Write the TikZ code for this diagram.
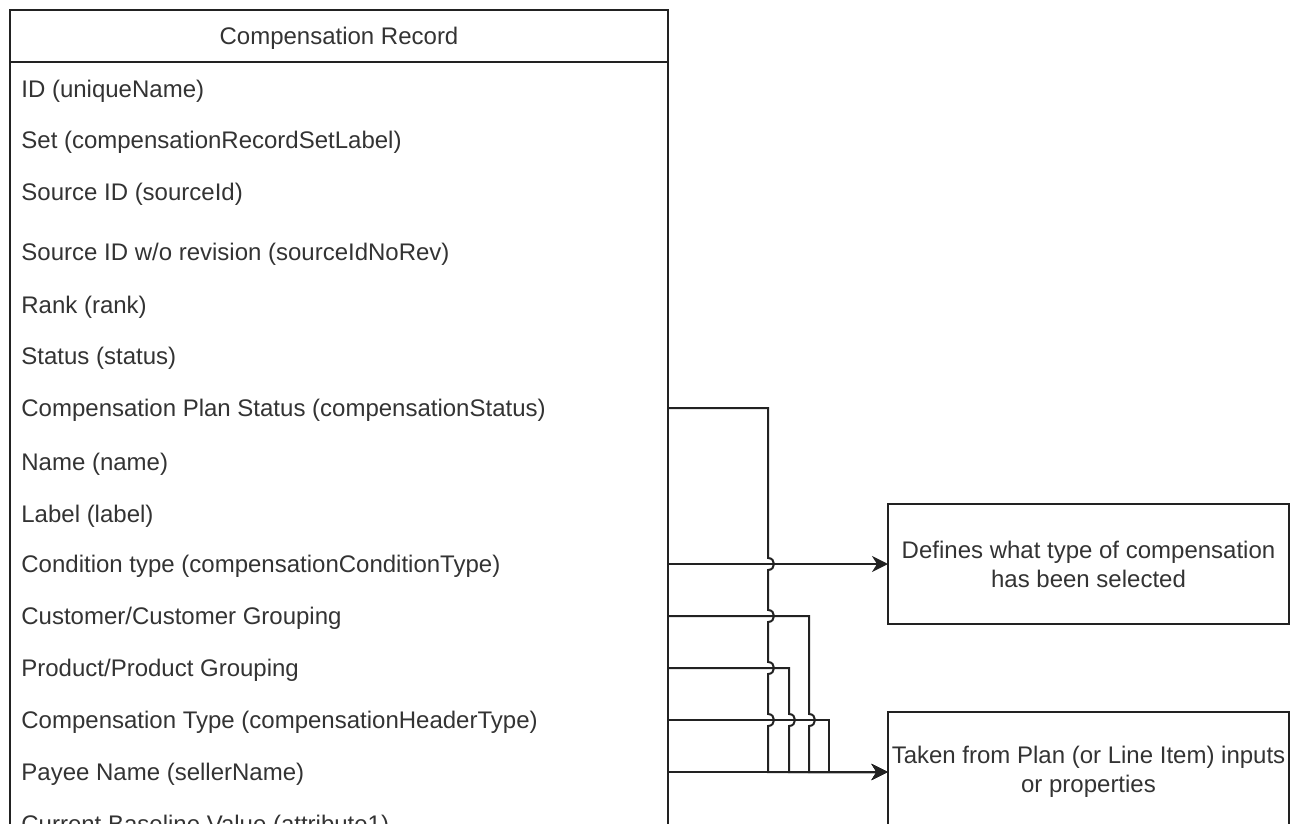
\documentclass[tikz,border=0pt]{standalone}
\usepackage{fontspec}
\setmainfont{Liberation Sans}
\usetikzlibrary{arrows.meta}
\definecolor{ink}{HTML}{333333}
\definecolor{edge}{HTML}{222222}
\begin{document}
\begin{tikzpicture}[x=0.5pt,y=-0.5pt,
  txt/.style={text=ink, font=\fontsize{12}{14.5}\selectfont},
  field/.style={txt, anchor=west, inner sep=0pt},
  frame/.style={draw=edge, line width=1pt, inner sep=0pt, outer sep=0pt},
  note/.style={frame, txt, minimum width=200.5pt, minimum height=60pt, align=center},
  wire/.style={draw=edge, line width=1pt},
  link/.style={wire, -{Stealth[length=8pt,width=8pt,inset=2.5pt]}}]
\useasboundingbox (0,0) rectangle (1299,835);
\clip (0,0) rectangle (1299,823);

% record table: outer frame and title row
\node[frame, anchor=north west, minimum width=329pt, minimum height=450pt] (rec) at (10,10) {};
\node[frame, anchor=north west, minimum width=329pt, minimum height=26pt] (hdrbox) at (10,10) {};
\node[txt, inner sep=0pt] (hdr) at (339,38) {Compensation Record};

% attribute rows
\node[field] (f1)  at (21,91)  {ID (uniqueName)};
\node[field] (f2)  at (21,142) {Set (compensationRecordSetLabel)};
\node[field] (f3)  at (21,194) {Source ID (sourceId)};
\node[field] (f4)  at (21,254) {Source ID w/o revision (sourceIdNoRev)};
\node[field] (f5)  at (21,307) {Rank (rank)};
\node[field] (f6)  at (21,358) {Status (status)};
\node[field] (f7)  at (21,410) {Compensation Plan Status (compensationStatus)};
\node[field] (f8)  at (21,464) {Name (name)};
\node[field] (f9)  at (21,516) {Label (label)};
\node[field] (f10) at (21,566) {Condition type (compensationConditionType)};
\node[field] (f11) at (21,618) {Customer/Customer Grouping};
\node[field] (f12) at (21,670) {Product/Product Grouping};
\node[field] (f13) at (21,722) {Compensation Type (compensationHeaderType)};
\node[field] (f14) at (21,774) {Payee Name (sellerName)};
\node[field] (f15) at (21,826) {Current Baseline Value (attribute1)};

% row anchors on the right edge of the table
\coordinate (r7)  at (668,408);
\coordinate (r10) at (668,564);
\coordinate (r11) at (668,616);
\coordinate (r12) at (668,668);
\coordinate (r13) at (668,720);
\coordinate (r14) at (668,772);

% explanation boxes (the lower one runs past the bottom edge)
\node[note] (b1) at (1088.5,564) {Defines what type of compensation\\has been selected};
\node[txt, minimum width=200.5pt, minimum height=60pt, inner sep=0pt, align=center] (b2) at (1088.5,772) {Taken from Plan (or Line Item) inputs\\or properties};
\draw[wire] (b2.north west) rectangle ([yshift=-20pt]b2.south east);

% connectors (verticals hop over the horizontals they cross)
\draw[link] (r10) -- (b1.west);
\draw[link] (r14) -- (b2.west);
\draw[link] (r7) -- (768,408) -- (768,558)
  .. controls (776,558) and (776,570) .. (768,570) -- (768,610)
  .. controls (776,610) and (776,622) .. (768,622) -- (768,662)
  .. controls (776,662) and (776,674) .. (768,674) -- (768,714)
  .. controls (776,714) and (776,726) .. (768,726) -- (768,772) -- (b2.west);
\draw[link] (r11) -- (809,616) -- (809,714)
  .. controls (817,714) and (817,726) .. (809,726) -- (809,772) -- (b2.west);
\draw[link] (r12) -- (789,668) -- (789,714)
  .. controls (797,714) and (797,726) .. (789,726) -- (789,772) -- (b2.west);
\draw[link] (r13) -- (829,720) -- (829,772) -- (b2.west);
\end{tikzpicture}
\end{document}
